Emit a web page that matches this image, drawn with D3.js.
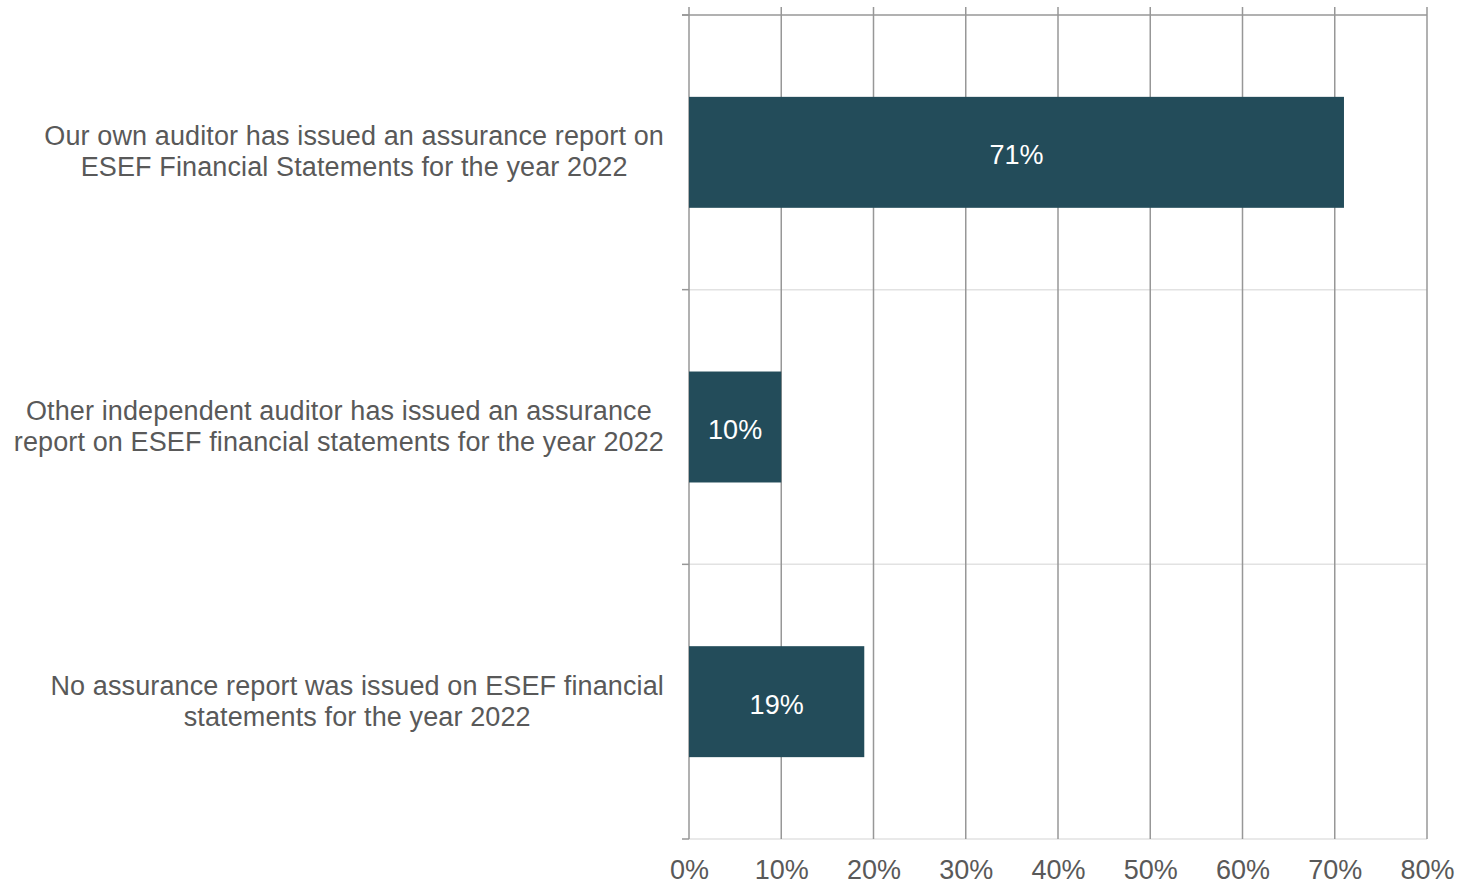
<!DOCTYPE html>
<html><head><meta charset="utf-8">
<script src="https://cdn.jsdelivr.net/npm/d3@7"></script>
<style>
html,body{margin:0;padding:0;background:#fff;}
svg text{font-family:"Liberation Sans",Arial,sans-serif;}
</style></head>
<body>
<svg id="chart" width="1458" height="885"></svg>
<script>
const categories = [
  ["Our own auditor has issued an assurance report on", "ESEF Financial Statements for the year 2022"],
  ["Other independent auditor has issued an assurance", "report on ESEF financial statements for the year 2022"],
  ["No assurance report was issued on ESEF financial", "statements for the year 2022"]
];
const values = [0.71, 0.10, 0.19];
const valueLabels = ["71%", "10%", "19%"];
const tickValues = [0, 0.1, 0.2, 0.3, 0.4, 0.5, 0.6, 0.7, 0.8];

(function () {
const svg = d3.select("#chart");
const pLeft = 689, pRight = 1427, pTop = 15, pBottom = 839;
const x = d3.scaleLinear().domain([0, 0.8]).range([pLeft, pRight]);
const idx = categories.map((d, i) => i);
const y = d3.scaleBand().domain(idx).range([pTop, pBottom]).paddingInner(0.596).paddingOuter(0.298);
const step = y.step();

const darkGray = "#979797", lightGray = "#e2e2e2", textGray = "#595959";
const fs = 27;

const bounds = d3.range(categories.length + 1).map(i => pTop + i * step);
svg.append("g").selectAll("line").data(bounds.slice(1)).join("line")
  .attr("x1", pLeft).attr("x2", pRight).attr("y1", d => d).attr("y2", d => d)
  .attr("stroke", lightGray).attr("stroke-width", 1.5);

svg.append("g").selectAll("line").data(tickValues).join("line")
  .attr("x1", d => x(d)).attr("x2", d => x(d)).attr("y1", 7).attr("y2", pBottom)
  .attr("stroke", darkGray).attr("stroke-width", 1.5);

svg.append("line").attr("x1", pLeft - 7).attr("x2", pRight).attr("y1", pTop).attr("y2", pTop)
  .attr("stroke", darkGray).attr("stroke-width", 1.5);
svg.append("g").selectAll("line").data(bounds).join("line")
  .attr("x1", pLeft - 7).attr("x2", pLeft).attr("y1", d => d).attr("y2", d => d)
  .attr("stroke", darkGray).attr("stroke-width", 1.5);

svg.append("g").selectAll("rect").data(values).join("rect")
  .attr("x", x(0)).attr("y", (d, i) => y(i))
  .attr("width", d => x(d) - x(0)).attr("height", y.bandwidth())
  .attr("fill", "#234c5a");

svg.append("g").selectAll("text").data(values).join("text")
  .attr("x", d => (x(0) + x(d)) / 2)
  .attr("y", (d, i) => y(i) + y.bandwidth() / 2 + 12)
  .attr("text-anchor", "middle").attr("fill", "#fff")
  .attr("font-size", fs).text((d, i) => valueLabels[i]);

const xAxis = d3.axisBottom(x).tickValues(tickValues).tickFormat(d3.format(".0%")).tickSize(0).tickPadding(0);
const ax = svg.append("g").attr("transform", `translate(0,${pBottom})`).call(xAxis);
ax.select(".domain").remove();
ax.selectAll("text").attr("font-size", fs).attr("fill", textGray)
  .attr("font-family", '"Liberation Sans",Arial,sans-serif')
  .attr("dy", null).attr("y", 40);

const labelRight = 664;
const lineH = 31;
categories.forEach((lines, i) => {
  const g = svg.append("g");
  const cy = y(i) + y.bandwidth() / 2 - 1.5;
  const texts = lines.map((ln, j) => g.append("text")
    .attr("font-size", fs).attr("fill", textGray).attr("text-anchor", "middle")
    .attr("letter-spacing", "0.12px")
    .attr("y", cy + (j - (lines.length - 1) / 2) * lineH + 10).text(ln));
  const maxW = d3.max(texts, t => t.node().getComputedTextLength());
  texts.forEach(t => t.attr("x", labelRight - maxW / 2));
});
})();
</script>
</body></html>
